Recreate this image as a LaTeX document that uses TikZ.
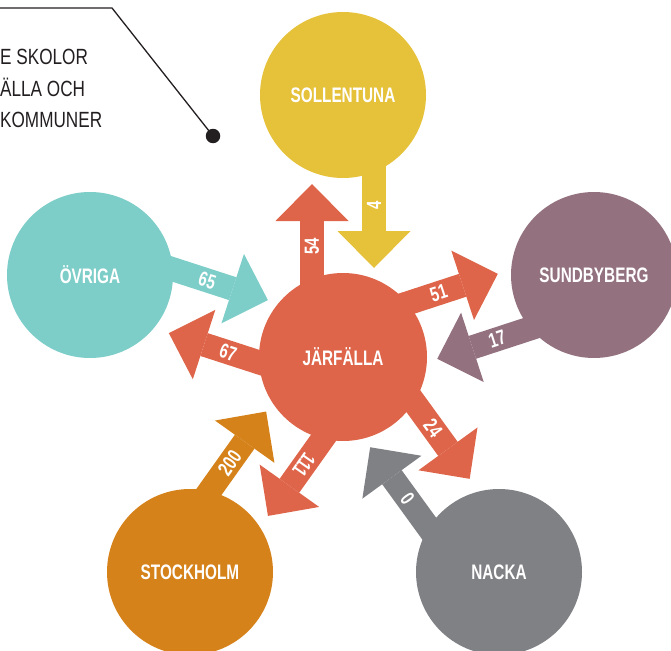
\documentclass[tikz,border=0pt]{standalone}
\usepackage{fontspec}
\setmainfont{Liberation Sans}
\newfontfamily\condfont[FakeStretch=0.78]{Liberation Sans}
\newfontfamily\labelfont[FakeStretch=0.73]{Liberation Sans}
\usetikzlibrary{arrows.meta, calc, backgrounds}
\definecolor{JarColor}{HTML}{DE654A}
\definecolor{SolColor}{HTML}{E6C13A}
\definecolor{SunColor}{HTML}{93717F}
\definecolor{OvrColor}{HTML}{7DCDC8}
\definecolor{StoColor}{HTML}{D6821A}
\definecolor{NacColor}{HTML}{808185}
\definecolor{TextDark}{HTML}{231F20}

\begin{document}
\begin{tikzpicture}[
    x=1pt, y=-1pt,
    town/.style={circle, minimum size=166pt, inner sep=0pt, text=white, font=\labelfont\bfseries\fontsize{21}{21}\selectfont},
    hub/.style={town, minimum size=168pt},
    flow/.style={line width=24pt, -{Triangle[length=37pt, width=73pt, line width=0pt]}},
    num/.style={inner sep=0pt, text=white, font=\labelfont\bfseries\fontsize{20.5}{20.5}\selectfont},
    note/.style={inner sep=0pt, align=left, text=TextDark, font=\condfont\fontsize{22}{31.5}\selectfont},
    pin/.style={circle, fill=TextDark, minimum size=14.5pt, inner sep=0pt},
    leader/.style={draw=TextDark, line width=1.3pt}
  ]
  \useasboundingbox (0,0) rectangle (671,650);
  \clip (0,0) rectangle (671,650);

  % towns
  \node[hub, fill=JarColor] (jar) at (343,357) {JÄRFÄLLA};
  \node[town, fill=SolColor] (sol) at (343,95) {SOLLENTUNA};
  \node[town, fill=SunColor] (sun) at (594,275) {SUNDBYBERG};
  \node[town, fill=OvrColor] (ovr) at (90,275) {ÖVRIGA};
  \node[town, fill=StoColor] (sto) at (190,572) {STOCKHOLM};
  \node[town, fill=NacColor] (nac) at (499,572) {NACKA};

  % flows, out of and into the hub
  \begin{scope}[on background layer]
    \draw[flow, JarColor] ($(jar.center)!31pt!90:(sol.center)$) -- node[num, pos=.64, rotate=90] {54} ($(jar.center)!173pt!(sol.center)!31pt!-90:(jar.center)$);
    \draw[flow, SolColor] ($(sol.center)!31pt!90:(jar.center)$) -- node[num, pos=.64, rotate=90] {4} ($(jar.center)!89pt!(sol.center)!31pt!90:(jar.center)$);
    \draw[flow, JarColor] ($(jar.center)!31pt!90:(sun.center)$) -- node[num, pos=.64, rotate=18] {51} ($(jar.center)!173pt!(sun.center)!31pt!-90:(jar.center)$);
    \draw[flow, SunColor] ($(sun.center)!31pt!90:(jar.center)$) -- node[num, pos=.64, rotate=18] {17} ($(jar.center)!89pt!(sun.center)!31pt!90:(jar.center)$);
    \draw[flow, JarColor] ($(jar.center)!31pt!90:(nac.center)$) -- node[num, pos=.64, rotate=-54] {24} ($(jar.center)!173pt!(nac.center)!31pt!-90:(jar.center)$);
    \draw[flow, NacColor] ($(nac.center)!31pt!90:(jar.center)$) -- node[num, pos=.64, rotate=-54] {0} ($(jar.center)!89pt!(nac.center)!31pt!90:(jar.center)$);
    \draw[flow, JarColor] ($(jar.center)!31pt!90:(sto.center)$) -- node[num, pos=.64, rotate=235] {111} ($(jar.center)!173pt!(sto.center)!31pt!-90:(jar.center)$);
    \draw[flow, StoColor] ($(sto.center)!31pt!90:(jar.center)$) -- node[num, pos=.64, rotate=55] {200} ($(jar.center)!89pt!(sto.center)!31pt!90:(jar.center)$);
    \draw[flow, JarColor] ($(jar.center)!31pt!90:(ovr.center)$) -- node[num, pos=.64, rotate=-18] {67} ($(jar.center)!173pt!(ovr.center)!31pt!-90:(jar.center)$);
    \draw[flow, OvrColor] ($(ovr.center)!31pt!90:(jar.center)$) -- node[num, pos=.64, rotate=-18] {65} ($(jar.center)!89pt!(ovr.center)!31pt!90:(jar.center)$);
  \end{scope}

  % caption and its leader
  \node[note, anchor=north west] (intro) at (0,49) {E SKOLOR\\ÄLLA OCH\\KOMMUNER};
  \node[pin] (dot) at (213,136) {};
  \coordinate (leadstart) at (-2,8);
  \coordinate (leadbend) at (112,8);
  \draw[leader] (leadstart) -- (leadbend) -- (dot.center);
\end{tikzpicture}
\end{document}
